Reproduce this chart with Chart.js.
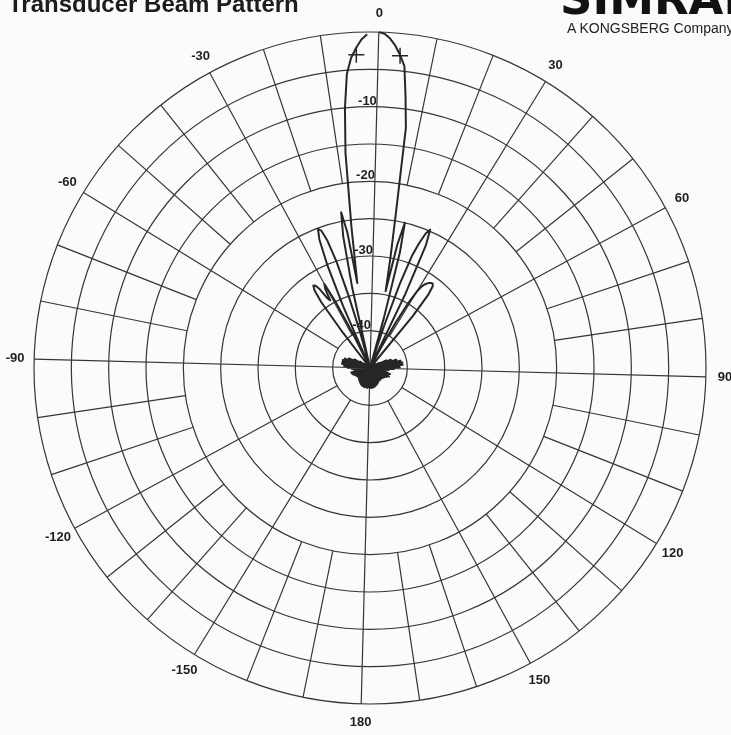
<!DOCTYPE html>
<html>
<head>
<meta charset="utf-8">
<script src="https://cdn.jsdelivr.net/npm/chart.js@4/dist/chart.umd.min.js"></script>
<style>
  html, body { margin: 0; padding: 0; background: #fbfbfb; }
  #wrap { position: relative; width: 731px; height: 735px; overflow: hidden; }
  canvas { position: absolute; left: 0; top: 0; }
  .t { position: absolute; white-space: nowrap; line-height: 1; color: #1c1c1c; }
  #title { left: 8px; top: -10px; font: bold 24px "Liberation Sans", Arial, sans-serif; }
  #logo { left: 560px; top: -28px; font: bold 45px "DejaVu Sans", sans-serif; color: #111; }
  #sub { left: 567px; top: 20px; font: 14px "Liberation Sans", Arial, sans-serif; color: #222; }
</style>
</head>
<body>
<div id="wrap">
  <canvas id="beam" width="731" height="735"></canvas>
  <div class="t" id="title">Transducer Beam Pattern</div>
  <div class="t" id="logo">SIMRAD</div>
  <div class="t" id="sub">A KONGSBERG Company</div>
</div>
<script>
// Relative response in dB, one value per degree.
// Starboard side: 0° .. 180°
const starboardDb = [
  0, -0.2, -0.8, -1.7, -2.9, -4.3, -8.5, -12.5, -24, -30,
  -34.5, -28, -25, -29, -38, -45, -45, -39, -33, -29,
  -27, -25.5, -24.8, -27, -34, -45, -45, -42, -38, -35,
  -33, -32, -31.5, -31.2, -31, -30.9, -31.2, -32.5, -36, -45,
  -45, -45, -45, -44.6, -45, -45, -44.5, -45, -45, -44.4,
  -45, -44.3, -45, -44.2, -45, -44.1, -45, -44, -45, -43.6,
  -45, -43.6, -45, -42.6, -45, -43.2, -45, -42, -45, -42.8,
  -45, -41.3, -44, -42.2, -45, -40.8, -44, -41.8, -45, -40.6,
  -44, -41.5, -45, -40.6, -44, -41.6, -45, -41, -44, -42.2,
  -45, -41.8, -45, -42.8, -45, -42.5, -45, -43.3, -45, -43,
  -45, -43.5, -45, -42.6, -45, -42.2, -45, -42.9, -45, -42.4,
  -45, -42.6, -45, -42.2, -45, -42.8, -45, -42.5, -45, -43,
  -45, -42.7, -45, -43.2, -45, -42.8, -45, -43.3, -45, -42.9,
  -45, -43.4, -45, -43, -45, -43.3, -45, -42.9, -45, -43.3,
  -45, -43, -45, -43.2, -45, -42.9, -45, -43.1, -45, -42.8,
  -45, -43, -45, -42.7, -45, -42.9, -45, -42.6, -45, -42.8,
  -45, -42.5, -45, -42.7, -45, -42.4, -45, -42.6, -45, -42.4,
  -45, -42.5, -45, -42.3, -45, -42.5, -45, -42.4, -45, -42.5,
  -45
];
// Port side: -1° .. -179°
const portDb = [
  -0.3, -1.0, -2.1, -3.4, -5.5, -10, -16, -26, -33.5,
  -26.5, -23.8, -27, -34, -45, -45, -40, -35, -30, -27,
  -25.5, -25.1, -26.5, -30, -36, -45, -45, -40, -35, -32.2,
  -32.8, -34.5, -34, -32.5, -31.8, -31.6, -32.2, -34, -39, -45,
  -45, -45, -44.6, -45, -45, -44.5, -45, -45, -44.4, -45,
  -44.3, -45, -44.2, -45, -44.1, -45, -44, -45, -43.4, -45,
  -43.8, -45, -42.6, -45, -43.2, -45, -41.9, -45, -42.8, -45,
  -41.4, -44, -42.3, -45, -41.2, -44, -42, -45, -41.2, -44,
  -41.8, -45, -41.2, -44, -42, -45, -41.5, -44, -42.5, -45,
  -42, -45, -43, -45, -42.6, -45, -43.4, -45, -43.2, -45,
  -43.6, -45, -42.8, -45, -42.4, -45, -42.9, -45, -42.5, -45,
  -42.9, -45, -42.6, -45, -43.1, -45, -42.8, -45, -43.3, -45,
  -42.9, -45, -43.3, -45, -43, -45, -43.4, -45, -43, -45,
  -43.3, -45, -43, -45, -43.2, -45, -42.9, -45, -43.1, -45,
  -42.8, -45, -43, -45, -42.7, -45, -42.9, -45, -42.6, -45,
  -42.8, -45, -42.5, -45, -42.7, -45, -42.4, -45, -42.6, -45,
  -42.4, -45, -42.5, -45, -42.3, -45, -42.5, -45, -42.4, -45,
  -42.5, -45, -42.3, -45, -42.4, -45, -42.5, -45, -42.4
];
// -3 dB beamwidth marks
const halfPowerAngles = [4, -4];
const halfPowerDb = [-3, -3];

// Bearing labels around the rim and level labels along the 0° axis
const bearingAngles = [0, 30, 60, 90, 120, 150, 180, -150, -120, -90, -60, -30];
const bearingLabels = ['0', '30', '60', '90', '120', '150', '180', '-150', '-120', '-90', '-60', '-30'];
const levelLabels = [-10, -20, -30, -40];

const DB_MIN = -45, DB_MAX = 0;
const INK = '#262626';
const GRID = '#353535';

// one category per degree, 0..359 clockwise from the bow
const degreeSlots = Array.from({ length: 360 }, (_, i) => i);
const patternData = starboardDb.concat(portDb.slice().reverse());
const markerData = degreeSlots.map(() => null);
halfPowerAngles.forEach((a, i) => { markerData[(a + 360) % 360] = halfPowerDb[i]; });

const polarPaper = {
  id: 'polarPaper',
  beforeDatasetsDraw(chart) {
    const s = chart.scales.r;
    const ctx = chart.ctx;
    const outer = s.drawingArea;
    ctx.save();
    ctx.strokeStyle = GRID;
    ctx.lineWidth = 1.2;
    for (let a = 0; a < 360; a += 10) {
      let from;
      if (a % 90 === 0) from = 0;
      else if (a % 30 === 0) from = s.getDistanceFromCenterForValue(-40);
      else from = s.getDistanceFromCenterForValue(-20);
      const p0 = s.getPointPosition(a, from);
      const p1 = s.getPointPosition(a, outer);
      ctx.beginPath();
      ctx.moveTo(p0.x, p0.y);
      ctx.lineTo(p1.x, p1.y);
      ctx.stroke();
    }
    ctx.fillStyle = '#1e1e1e';
    ctx.font = 'bold 13px "Liberation Sans", Arial, sans-serif';
    ctx.textAlign = 'center';
    ctx.textBaseline = 'middle';
    bearingAngles.forEach((a, i) => {
      const p = s.getPointPosition((a + 360) % 360, outer + 19);
      ctx.fillText(bearingLabels[i], p.x, p.y);
    });
    ctx.textAlign = 'right';
    ctx.textBaseline = 'alphabetic';
    levelLabels.forEach(v => {
      const p = s.getPointPosition(0, s.getDistanceFromCenterForValue(v));
      ctx.fillText(String(v), p.x, p.y - 2);
    });
    ctx.restore();
  }
};

new Chart(document.getElementById('beam'), {
  type: 'radar',
  data: {
    labels: degreeSlots,
    datasets: [
      {
        label: 'Beam pattern',
        data: patternData,
        borderColor: INK,
        borderWidth: 2,
        borderJoinStyle: 'round',
        fill: false,
        tension: 0,
        pointRadius: 0,
        pointHitRadius: 0
      },
      {
        label: '-3 dB',
        data: markerData,
        showLine: false,
        pointStyle: 'cross',
        pointRadius: 8,
        pointBorderWidth: 1.5,
        pointBorderColor: INK,
        pointBackgroundColor: INK
      }
    ]
  },
  options: {
    responsive: false,
    animation: false,
    layout: { padding: { left: 34, right: 25, top: 32, bottom: 31 } },
    plugins: { legend: { display: false }, tooltip: { enabled: false } },
    scales: {
      r: {
        min: DB_MIN,
        max: DB_MAX,
        startAngle: 1.5,
        ticks: { display: false, stepSize: 5 },
        grid: { circular: true, color: GRID, lineWidth: 1.2 },
        angleLines: { display: false },
        pointLabels: { display: false }
      }
    }
  },
  plugins: [polarPaper]
});
</script>
</body>
</html>
